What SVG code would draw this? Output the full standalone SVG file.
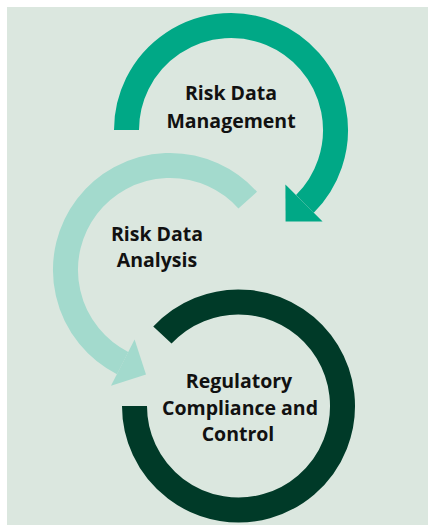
<svg xmlns="http://www.w3.org/2000/svg" width="430" height="525" viewBox="0 0 430 525">
  <style>
    .ring { fill: none; stroke-width: 25; stroke-linecap: butt; }
    .label { font-family: "Open Sans", "Liberation Sans", sans-serif; font-weight: 700; font-size: 19.5px; fill: #111111; text-anchor: middle; }
    .mgmt { stroke: #00a886; }
    .mgmt-fill { fill: #00a886; }
    .anl { stroke: #a3dacd; }
    .anl-fill { fill: #a3dacd; }
    .reg { stroke: #003a28; }
  </style>
  <rect x="0" y="0" width="430" height="525" fill="#ffffff"/>
  <rect x="7" y="7" width="421" height="518" fill="#dbe7df"/>

  <!-- Stage 3: closing ring around the compliance label -->
  <g id="regulatory-compliance">
    <path class="ring reg" d="M162.4,335.1 A104,104 0 1,1 134.5,406"/>
    <text class="label" x="239" y="388">Regulatory</text>
    <text class="label" x="240" y="415">Compliance and</text>
    <text class="label" x="238" y="441">Control</text>
  </g>

  <!-- Stage 2: analysis arc turning counter-clockwise -->
  <g id="risk-data-analysis">
    <path class="ring anl" d="M247.7,200.1 A104.5,104.5 0 1,0 122.6,363.1"/>
    <polygon class="anl-fill" points="134.6,339.5 111,385.8 146,374.5"/>
    <text class="label" x="157" y="241">Risk Data</text>
    <text class="label" x="157" y="267">Analysis</text>
  </g>

  <!-- Stage 1: management arc turning clockwise -->
  <g id="risk-data-management">
    <path class="ring mgmt" d="M126.5,130 A104.5,104.5 0 1,1 304.9,203.9"/>
    <polygon class="mgmt-fill" points="285.4,184.4 322.6,221.6 285.6,221.4"/>
    <text class="label" x="231" y="100">Risk Data</text>
    <text class="label" x="231" y="128">Management</text>
  </g>
</svg>
